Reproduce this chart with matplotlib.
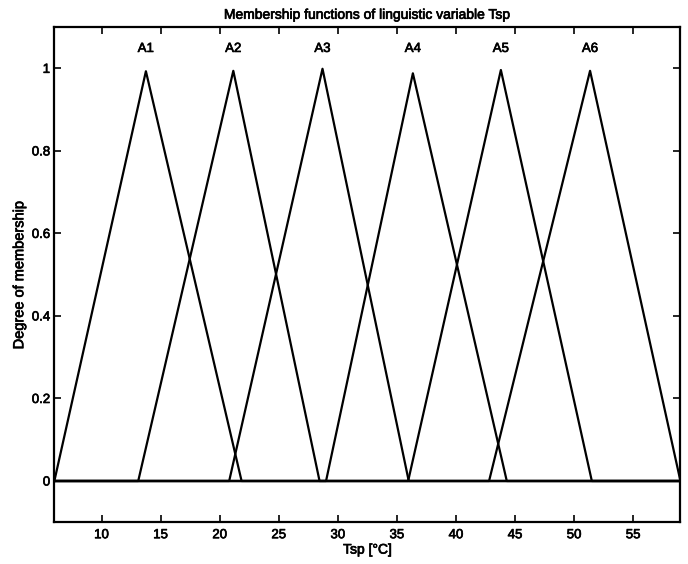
import numpy as np
import matplotlib
matplotlib.use("Agg")
import matplotlib.pyplot as plt
import matplotlib.patheffects as pe

# -- membership functions of Tsp (triangles)
names = ["A1", "A2", "A3", "A4", "A5", "A6"]
left_feet = [6.0, 13.1, 20.8, 29.0, 35.95, 42.8]
peaks = [13.75, 21.15, 28.7, 36.35, 43.8, 51.35]
right_feet = [21.85, 28.45, 36.0, 44.3, 51.5, 59.0]
peak_heights = [0.993, 0.994, 0.999, 0.988, 0.996, 0.994]

x_min, x_max = 6, 59

plt.rcParams['font.family'] = ['Liberation Sans', 'DejaVu Sans']
plt.rcParams['font.size'] = 9.5

# scanned print looks heavy, thicken the glyphs a little
heavy = [pe.withStroke(linewidth=0.5, foreground='black')]

fig = plt.figure(figsize=(6.88, 5.64), dpi=100)
ax = fig.add_axes([0.079, 0.074, 0.910, 0.878])

for name, a, b, c, h in zip(names, left_feet, peaks, right_feet, peak_heights):
    xs = [x_min, a, b, c, x_max]
    ys = [0, 0, h, 0, 0]
    ax.plot(xs, ys, color='black', linewidth=1.6)
    ax.text(b, 1.047, name, ha='center', va='center', fontsize=9.5,
            path_effects=heavy)

ax.set_xlim(x_min, x_max)
ax.set_ylim(-0.1, 1.1)
ax.set_xticks([10, 15, 20, 25, 30, 35, 40, 45, 50, 55])
ax.set_yticks([0, 0.2, 0.4, 0.6, 0.8, 1])
ax.set_yticklabels(['0', '0.2', '0.4', '0.6', '0.8', '1'])
ax.tick_params(direction='in', length=5, width=1.2, top=True, right=True,
               labelsize=9.5)
ax.tick_params(axis='x', pad=5)
ax.tick_params(axis='y', pad=3)
for lbl in ax.get_xticklabels() + ax.get_yticklabels():
    lbl.set_path_effects(heavy)
for s in ax.spines.values():
    s.set_linewidth(1.6)

ax.set_title('Membership functions of linguistic variable Tsp', fontsize=10,
             pad=6, path_effects=heavy)
ax.set_xlabel('Tsp [°C]', fontsize=10, labelpad=1, path_effects=heavy)
ax.set_ylabel('Degree of membership', fontsize=10.5, labelpad=4,
              path_effects=heavy)

fig.savefig('out.png', dpi=100)
